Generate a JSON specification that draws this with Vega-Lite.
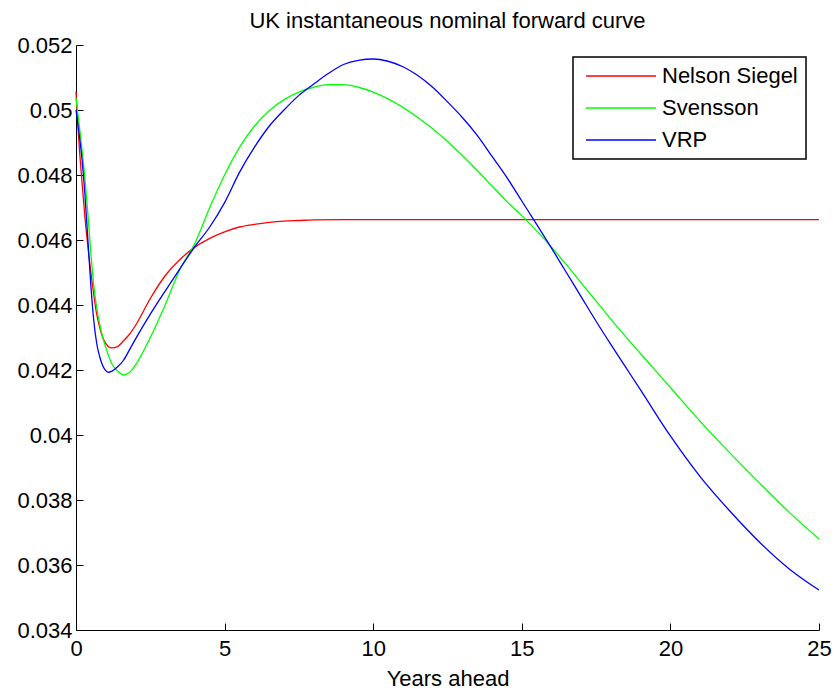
{
  "$schema": "https://vega.github.io/schema/vega-lite/v6.json",
  "width": 743,
  "height": 585,
  "autosize": {"type": "none"},
  "padding": {"left": 76, "top": 45, "right": 17, "bottom": 60},
  "background": "white",
  "title": {"text": "UK instantaneous nominal forward curve", "font": "Liberation Sans", "fontSize": 22, "fontWeight": "normal", "color": "black", "offset": -16, "baseline": "alphabetic", "anchor": "middle"},
  "config": {
    "view": {"stroke": null},
    "axis": {"domainColor": "black", "domainWidth": 1, "tickColor": "black", "tickWidth": 1, "tickSize": -7, "grid": false, "labelFont": "Liberation Sans", "labelFontSize": 22, "labelColor": "black", "labelFlush": false, "titleFont": "Liberation Sans", "titleFontSize": 22, "titleFontWeight": "normal", "titleColor": "black"},
    "axisX": {"labelPadding": 15, "titlePadding": 9},
    "axisY": {"labelPadding": 11},
    "legend": {"strokeColor": "black", "strokeWidth": 1.5, "fillColor": "white"}
  },
  "data": {"values": [
    {"t": 0, "f": 0.05056, "model": "Nelson Siegel"},
    {"t": 0.1, "f": 0.0490, "model": "Nelson Siegel"},
    {"t": 0.2, "f": 0.0478, "model": "Nelson Siegel"},
    {"t": 0.3, "f": 0.0467, "model": "Nelson Siegel"},
    {"t": 0.4, "f": 0.0458, "model": "Nelson Siegel"},
    {"t": 0.5, "f": 0.0450, "model": "Nelson Siegel"},
    {"t": 0.6, "f": 0.0443, "model": "Nelson Siegel"},
    {"t": 0.7, "f": 0.0437, "model": "Nelson Siegel"},
    {"t": 0.8, "f": 0.0433, "model": "Nelson Siegel"},
    {"t": 0.9, "f": 0.0430, "model": "Nelson Siegel"},
    {"t": 1.0, "f": 0.04282, "model": "Nelson Siegel"},
    {"t": 1.2, "f": 0.04268, "model": "Nelson Siegel"},
    {"t": 1.4, "f": 0.04272, "model": "Nelson Siegel"},
    {"t": 1.6, "f": 0.0429, "model": "Nelson Siegel"},
    {"t": 1.8, "f": 0.0431, "model": "Nelson Siegel"},
    {"t": 2.0, "f": 0.04337, "model": "Nelson Siegel"},
    {"t": 2.5, "f": 0.0442, "model": "Nelson Siegel"},
    {"t": 3, "f": 0.0449, "model": "Nelson Siegel"},
    {"t": 3.5, "f": 0.0454, "model": "Nelson Siegel"},
    {"t": 4, "f": 0.04578, "model": "Nelson Siegel"},
    {"t": 4.5, "f": 0.04605, "model": "Nelson Siegel"},
    {"t": 5, "f": 0.04625, "model": "Nelson Siegel"},
    {"t": 5.5, "f": 0.0464, "model": "Nelson Siegel"},
    {"t": 6, "f": 0.04648, "model": "Nelson Siegel"},
    {"t": 6.5, "f": 0.04654, "model": "Nelson Siegel"},
    {"t": 7, "f": 0.04658, "model": "Nelson Siegel"},
    {"t": 7.5, "f": 0.0466, "model": "Nelson Siegel"},
    {"t": 8, "f": 0.04662, "model": "Nelson Siegel"},
    {"t": 9, "f": 0.04663, "model": "Nelson Siegel"},
    {"t": 10, "f": 0.04663, "model": "Nelson Siegel"},
    {"t": 12, "f": 0.04663, "model": "Nelson Siegel"},
    {"t": 15, "f": 0.04663, "model": "Nelson Siegel"},
    {"t": 18, "f": 0.04663, "model": "Nelson Siegel"},
    {"t": 20, "f": 0.04663, "model": "Nelson Siegel"},
    {"t": 22, "f": 0.04663, "model": "Nelson Siegel"},
    {"t": 25, "f": 0.04663, "model": "Nelson Siegel"},
    {"t": 0, "f": 0.05037, "model": "Svensson"},
    {"t": 0.1, "f": 0.0496, "model": "Svensson"},
    {"t": 0.2, "f": 0.0488, "model": "Svensson"},
    {"t": 0.3, "f": 0.0479, "model": "Svensson"},
    {"t": 0.4, "f": 0.0468, "model": "Svensson"},
    {"t": 0.5, "f": 0.0456, "model": "Svensson"},
    {"t": 0.6, "f": 0.0446, "model": "Svensson"},
    {"t": 0.7, "f": 0.0439, "model": "Svensson"},
    {"t": 0.8, "f": 0.0434, "model": "Svensson"},
    {"t": 0.9, "f": 0.0430, "model": "Svensson"},
    {"t": 1.0, "f": 0.0427, "model": "Svensson"},
    {"t": 1.2, "f": 0.0422, "model": "Svensson"},
    {"t": 1.4, "f": 0.04197, "model": "Svensson"},
    {"t": 1.6, "f": 0.04185, "model": "Svensson"},
    {"t": 1.8, "f": 0.04192, "model": "Svensson"},
    {"t": 2.0, "f": 0.04215, "model": "Svensson"},
    {"t": 2.5, "f": 0.0430, "model": "Svensson"},
    {"t": 3, "f": 0.0440, "model": "Svensson"},
    {"t": 3.5, "f": 0.0451, "model": "Svensson"},
    {"t": 4, "f": 0.0459, "model": "Svensson"},
    {"t": 4.5, "f": 0.0470, "model": "Svensson"},
    {"t": 5, "f": 0.0480, "model": "Svensson"},
    {"t": 5.5, "f": 0.04885, "model": "Svensson"},
    {"t": 6, "f": 0.0495, "model": "Svensson"},
    {"t": 6.5, "f": 0.04998, "model": "Svensson"},
    {"t": 7, "f": 0.05032, "model": "Svensson"},
    {"t": 7.5, "f": 0.05055, "model": "Svensson"},
    {"t": 8, "f": 0.0507, "model": "Svensson"},
    {"t": 8.5, "f": 0.05078, "model": "Svensson"},
    {"t": 9, "f": 0.05078, "model": "Svensson"},
    {"t": 9.5, "f": 0.0507, "model": "Svensson"},
    {"t": 10, "f": 0.05055, "model": "Svensson"},
    {"t": 10.5, "f": 0.05034, "model": "Svensson"},
    {"t": 11, "f": 0.05008, "model": "Svensson"},
    {"t": 11.5, "f": 0.04977, "model": "Svensson"},
    {"t": 12, "f": 0.04942, "model": "Svensson"},
    {"t": 12.5, "f": 0.04903, "model": "Svensson"},
    {"t": 13, "f": 0.0486, "model": "Svensson"},
    {"t": 13.5, "f": 0.04814, "model": "Svensson"},
    {"t": 14, "f": 0.04766, "model": "Svensson"},
    {"t": 14.5, "f": 0.04718, "model": "Svensson"},
    {"t": 15, "f": 0.04675, "model": "Svensson"},
    {"t": 15.5, "f": 0.04628, "model": "Svensson"},
    {"t": 16, "f": 0.04578, "model": "Svensson"},
    {"t": 16.5, "f": 0.04524, "model": "Svensson"},
    {"t": 17, "f": 0.04468, "model": "Svensson"},
    {"t": 17.5, "f": 0.04412, "model": "Svensson"},
    {"t": 18, "f": 0.04356, "model": "Svensson"},
    {"t": 18.5, "f": 0.04302, "model": "Svensson"},
    {"t": 19, "f": 0.0425, "model": "Svensson"},
    {"t": 19.5, "f": 0.04198, "model": "Svensson"},
    {"t": 20, "f": 0.04146, "model": "Svensson"},
    {"t": 21, "f": 0.04042, "model": "Svensson"},
    {"t": 22, "f": 0.03945, "model": "Svensson"},
    {"t": 23, "f": 0.03852, "model": "Svensson"},
    {"t": 24, "f": 0.03762, "model": "Svensson"},
    {"t": 25, "f": 0.0368, "model": "Svensson"},
    {"t": 0, "f": 0.0500, "model": "VRP"},
    {"t": 0.1, "f": 0.0493, "model": "VRP"},
    {"t": 0.2, "f": 0.0485, "model": "VRP"},
    {"t": 0.3, "f": 0.0474, "model": "VRP"},
    {"t": 0.4, "f": 0.0460, "model": "VRP"},
    {"t": 0.5, "f": 0.0446, "model": "VRP"},
    {"t": 0.6, "f": 0.0435, "model": "VRP"},
    {"t": 0.7, "f": 0.0428, "model": "VRP"},
    {"t": 0.8, "f": 0.0424, "model": "VRP"},
    {"t": 0.9, "f": 0.04213, "model": "VRP"},
    {"t": 1.0, "f": 0.04198, "model": "VRP"},
    {"t": 1.1, "f": 0.04193, "model": "VRP"},
    {"t": 1.2, "f": 0.04196, "model": "VRP"},
    {"t": 1.4, "f": 0.0421, "model": "VRP"},
    {"t": 1.6, "f": 0.0423, "model": "VRP"},
    {"t": 1.8, "f": 0.04262, "model": "VRP"},
    {"t": 2.0, "f": 0.04295, "model": "VRP"},
    {"t": 2.5, "f": 0.04372, "model": "VRP"},
    {"t": 3, "f": 0.04443, "model": "VRP"},
    {"t": 3.5, "f": 0.04512, "model": "VRP"},
    {"t": 4, "f": 0.0458, "model": "VRP"},
    {"t": 4.5, "f": 0.0464, "model": "VRP"},
    {"t": 5, "f": 0.04715, "model": "VRP"},
    {"t": 5.5, "f": 0.04808, "model": "VRP"},
    {"t": 6, "f": 0.04885, "model": "VRP"},
    {"t": 6.5, "f": 0.0495, "model": "VRP"},
    {"t": 7, "f": 0.05, "model": "VRP"},
    {"t": 7.5, "f": 0.05045, "model": "VRP"},
    {"t": 8, "f": 0.0508, "model": "VRP"},
    {"t": 8.5, "f": 0.05113, "model": "VRP"},
    {"t": 9, "f": 0.0514, "model": "VRP"},
    {"t": 9.5, "f": 0.05153, "model": "VRP"},
    {"t": 10, "f": 0.05157, "model": "VRP"},
    {"t": 10.5, "f": 0.0515, "model": "VRP"},
    {"t": 11, "f": 0.05133, "model": "VRP"},
    {"t": 11.5, "f": 0.05106, "model": "VRP"},
    {"t": 12, "f": 0.0507, "model": "VRP"},
    {"t": 12.5, "f": 0.05025, "model": "VRP"},
    {"t": 13, "f": 0.04977, "model": "VRP"},
    {"t": 13.5, "f": 0.04922, "model": "VRP"},
    {"t": 14, "f": 0.04857, "model": "VRP"},
    {"t": 14.5, "f": 0.04792, "model": "VRP"},
    {"t": 15, "f": 0.0472, "model": "VRP"},
    {"t": 15.5, "f": 0.04648, "model": "VRP"},
    {"t": 16, "f": 0.04575, "model": "VRP"},
    {"t": 16.5, "f": 0.045, "model": "VRP"},
    {"t": 17, "f": 0.04425, "model": "VRP"},
    {"t": 17.5, "f": 0.0435, "model": "VRP"},
    {"t": 18, "f": 0.04278, "model": "VRP"},
    {"t": 18.5, "f": 0.04208, "model": "VRP"},
    {"t": 19, "f": 0.04138, "model": "VRP"},
    {"t": 20, "f": 0.03997, "model": "VRP"},
    {"t": 21, "f": 0.03872, "model": "VRP"},
    {"t": 22, "f": 0.03766, "model": "VRP"},
    {"t": 23, "f": 0.0367, "model": "VRP"},
    {"t": 24, "f": 0.03588, "model": "VRP"},
    {"t": 25, "f": 0.03523, "model": "VRP"}
  ]},
  "mark": {"type": "line", "interpolate": "monotone", "strokeWidth": 1.3},
  "encoding": {
    "x": {"field": "t", "type": "quantitative", "scale": {"domain": [0, 25], "nice": false}, "axis": {"values": [0, 5, 10, 15, 20, 25], "title": "Years ahead"}},
    "y": {"field": "f", "type": "quantitative", "scale": {"domain": [0.034, 0.052], "nice": false, "zero": false}, "axis": {"values": [0.034, 0.036, 0.038, 0.04, 0.042, 0.044, 0.046, 0.048, 0.05, 0.052], "format": "~g", "title": null}},
    "color": {"field": "model", "type": "nominal", "scale": {"domain": ["Nelson Siegel", "Svensson", "VRP"], "range": ["#ff0000", "#00ff00", "#0000ff"]},
      "legend": {"orient": "none", "legendX": 497, "legendY": 12, "title": null, "symbolType": "M-1.2,0H12.8", "symbolSize": 100, "symbolStrokeWidth": 1.3, "labelOffset": 59, "labelFont": "Liberation Sans", "labelFontSize": 22, "labelColor": "black", "rowPadding": 10, "padding": 8}
    }
  }
}
